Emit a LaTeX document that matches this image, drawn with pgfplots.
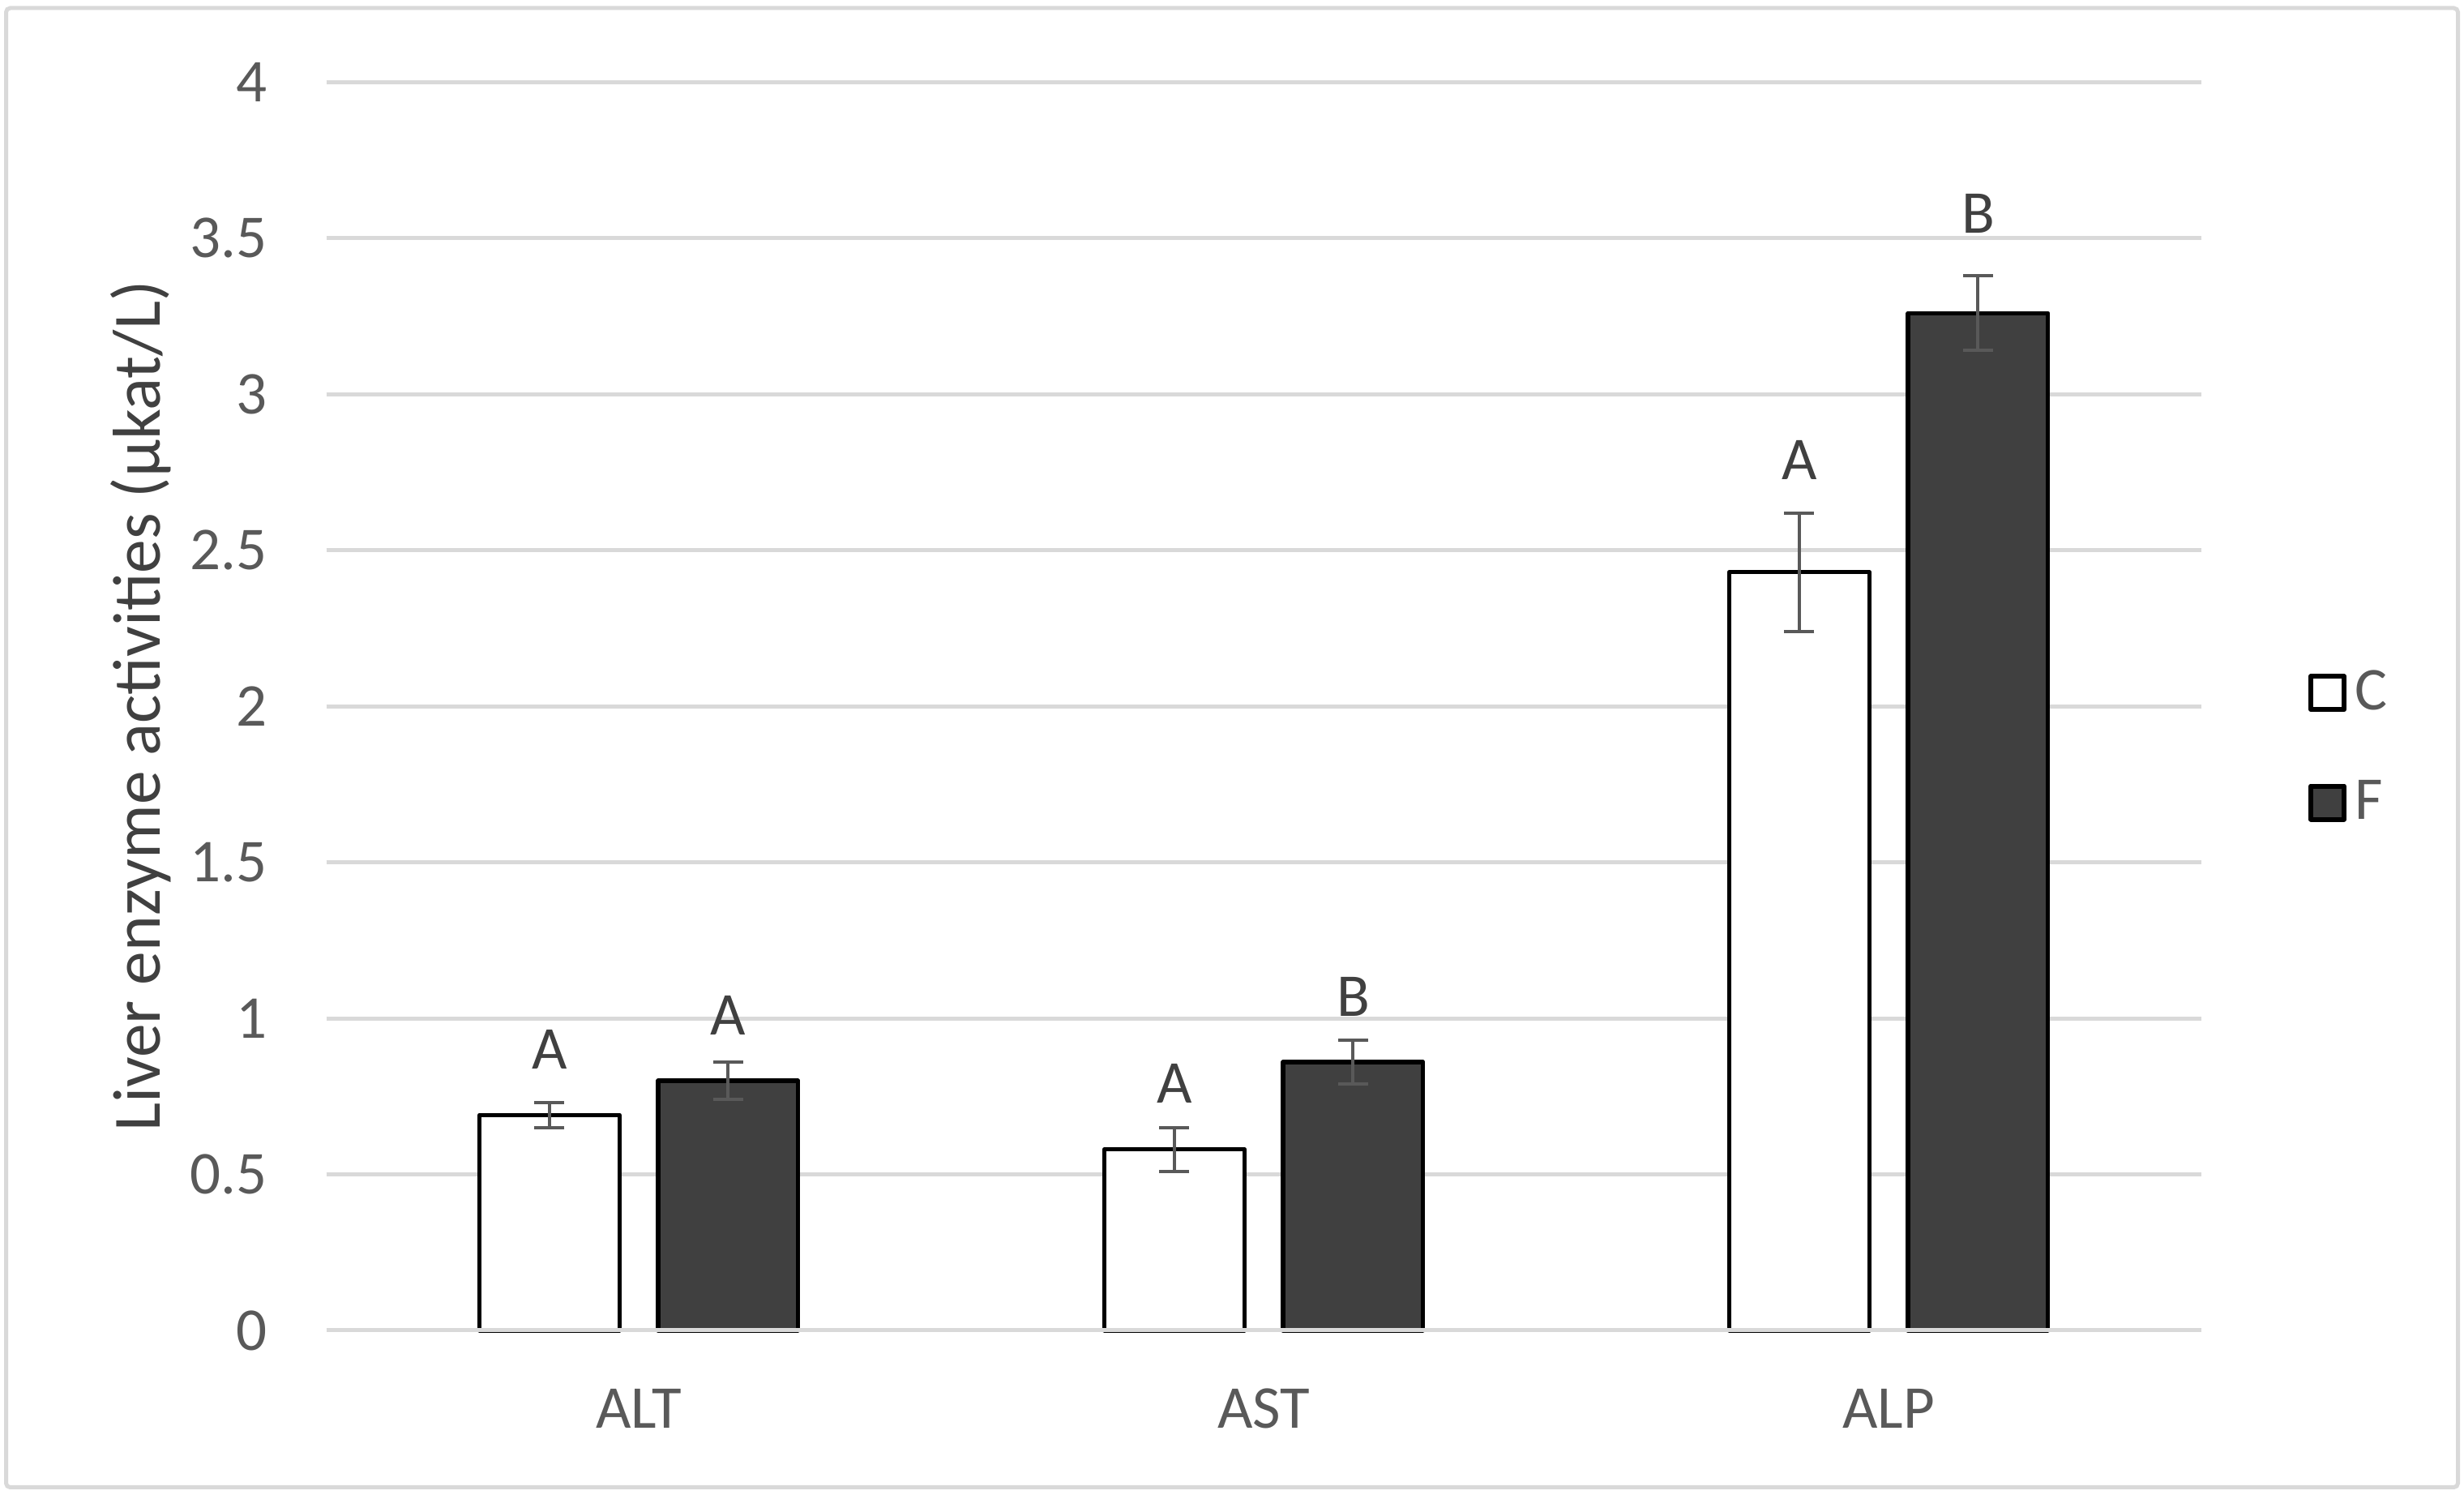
\documentclass[border=0pt]{standalone}
\usepackage{fontspec}
\setmainfont{Carlito}
\usepackage{pgfplots}
\pgfplotsset{compat=1.18}
\definecolor{gridgray}{HTML}{D9D9D9}
\definecolor{textgray}{HTML}{595959}
\definecolor{darkfill}{HTML}{404040}
\definecolor{errgray}{HTML}{595959}
\begin{document}
\begin{tikzpicture}
\useasboundingbox (0,0) rectangle (608pt,368.8pt);
\draw[gridgray, line width=1pt, rounded corners=1pt] (1.5pt,1.9pt) rectangle (606.5pt,366.8pt);
\begin{axis}[
  scale only axis, width=462.6pt, height=307.9pt,
  at={(80.54pt,40.6pt)}, anchor=south west,
  clip=false,
  xmin=-0.5, xmax=2.5, ymin=0, ymax=4,
  xtick={0,1,2}, xticklabels={ALT,AST,ALP},
  ytick={0,0.5,1,1.5,2,2.5,3,3.5,4},
  yticklabels={0,0.5,1,1.5,2,2.5,3,3.5,4},
  axis line style={draw=none},
  major tick length=0pt,
  ymajorgrids, grid style={gridgray, line width=1pt},
  tick label style={font=\fontsize{15}{18}\selectfont, text=textgray, inner sep=0pt},
  yticklabel style={anchor=east, xshift=-14.5pt},
  xticklabel style={anchor=center, yshift=-19.3pt},
  ylabel={Liver enzyme activities (µkat/L)},
  every axis y label/.style={at={(rel axis cs:-0.0988,0.5)}, rotate=90, anchor=center, font=\fontsize{16.7}{20}\selectfont, text=darkfill},
  legend style={draw=none, fill=none, at={(rel axis cs:1.0568,0.4669)}, anchor=west, inner sep=0pt, row sep=11.9pt, font=\fontsize{15}{18}\selectfont, text=textgray, cells={anchor=west}},
  legend image code/.code={\draw[#1, line width=1.2pt, line join=round] (0pt,-4.1pt) rectangle (8.2pt,4.1pt);},
]
\addplot[ybar, bar width=0.224, bar shift=0, fill=white, draw=black, line width=1.06pt, line join=round,
  error bars/.cd, y dir=both, y explicit,
  error bar style={errgray, line width=0.8pt},
  error mark options={rotate=90, mark size=3.7pt, errgray, line width=0.8pt}]
  table[x=x, y=y, y error=e] {
x y e
-0.143 0.69 0.04
0.857 0.58 0.07
1.857 2.43 0.19
};
\addlegendentry{C}
\addplot[ybar, bar width=0.224, bar shift=0, fill=darkfill, draw=black, line width=1.06pt, line join=round,
  error bars/.cd, y dir=both, y explicit,
  error bar style={errgray, line width=0.8pt},
  error mark options={rotate=90, mark size=3.7pt, errgray, line width=0.8pt}]
  table[x=x, y=y, y error=e] {
x y e
0.143 0.80 0.06
1.143 0.86 0.07
2.143 3.26 0.12
};
\addlegendentry{F}
\addplot[gridgray, line width=1pt, forget plot] coordinates {(-0.5,0) (2.5,0)};
\addplot[draw=none, mark=none, forget plot, point meta=explicit symbolic, nodes near coords,
  every node near coord/.append style={anchor=center, font=\fontsize{15}{18}\selectfont, text=darkfill, inner sep=0pt}]
  table[x=x, y=y, meta=lab] {
x y lab
-0.143 0.90 A
0.143 1.01 A
0.857 0.79 A
1.143 1.07 B
1.857 2.79 A
2.143 3.58 B
};
\end{axis}
\end{tikzpicture}
\end{document}
